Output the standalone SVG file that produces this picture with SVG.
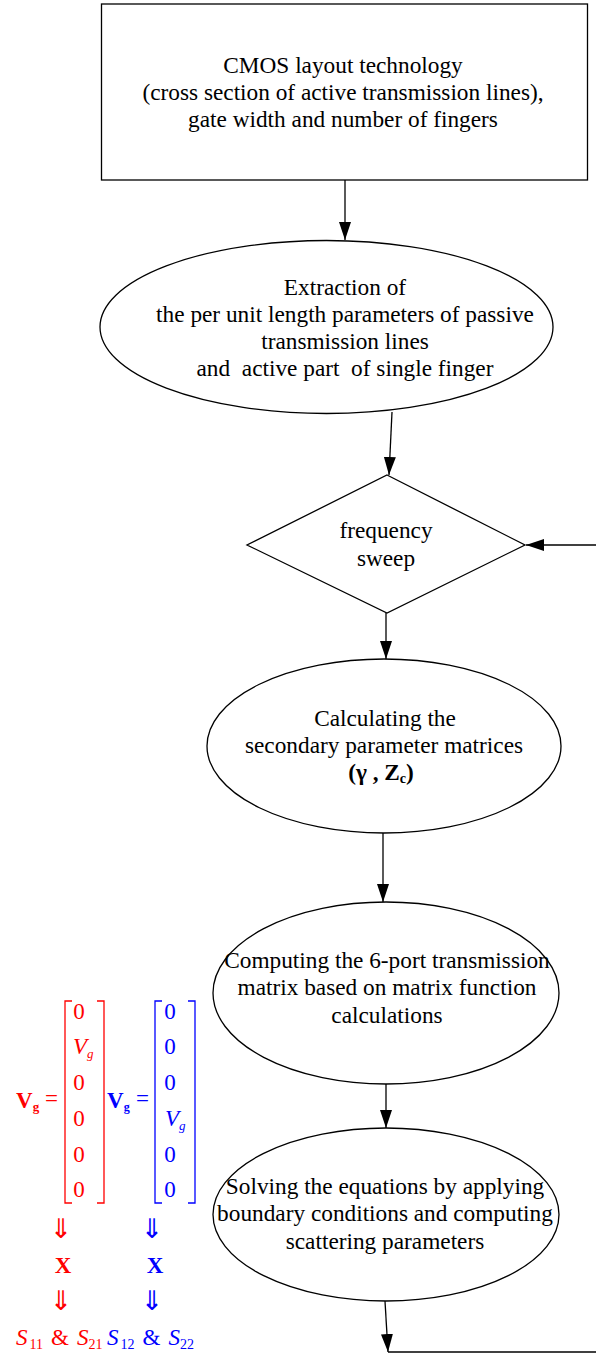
<svg xmlns="http://www.w3.org/2000/svg" width="596" height="1353" viewBox="0 0 596 1353">
<defs>
<style>
.shape{fill:#fff;stroke:#000;stroke-width:1.3}
.lbl{font-family:"Liberation Serif","DejaVu Serif",serif;fill:#000;text-anchor:middle;font-size:23.3px}
.conn{stroke:#000;stroke-width:1.3;fill:none}
.arr{marker-end:url(#ah)}
.m{font-family:"Liberation Serif","DejaVu Serif",serif;font-size:23px}
.red{fill:#ff0000}
.blue{fill:#0000ff}
.brk-r{stroke:#ff0000;stroke-width:1.3;fill:none}
.brk-b{stroke:#0000ff;stroke-width:1.3;fill:none}
.dar{font-family:"DejaVu Sans",sans-serif;font-size:27px;text-anchor:middle}
</style>
<marker id="ah" markerUnits="userSpaceOnUse" markerWidth="18" markerHeight="12" refX="18" refY="6" orient="auto">
<path d="M0,0 L18,6 L0,12 z" fill="#000"/>
</marker>
</defs>

<g id="connectors">
<line class="conn arr" x1="345" y1="180" x2="345" y2="240"/>
<line class="conn arr" x1="392" y1="412" x2="389" y2="475"/>
<line class="conn arr" x1="386" y1="613" x2="386" y2="659"/>
<line class="conn arr" x1="383" y1="833" x2="383" y2="902"/>
<line class="conn arr" x1="386" y1="1084" x2="386" y2="1128"/>
<line class="conn arr" x1="385" y1="1301" x2="388" y2="1352"/>
<line class="conn" x1="388" y1="1352" x2="596" y2="1352"/>
<line class="conn arr" x1="596" y1="545" x2="526" y2="545"/>
</g>

<g id="node-cmos">
<rect class="shape" x="101.5" y="4" width="486" height="176"/>
<text class="lbl" x="343" y="73">CMOS layout technology</text>
<text class="lbl" x="343" y="100" font-size="24">(cross section of active transmission lines),</text>
<text class="lbl" x="343" y="127">gate width and number of fingers</text>
</g>

<g id="node-extraction">
<ellipse class="shape" cx="326.5" cy="327" rx="226.5" ry="86.5"/>
<text class="lbl" x="345" y="295">Extraction of</text>
<text class="lbl" x="345" y="322">the per unit length parameters of passive</text>
<text class="lbl" x="345" y="349">transmission lines</text>
<text class="lbl" x="345" y="376" xml:space="preserve">and  active part  of single finger</text>
</g>

<g id="node-sweep">
<polygon class="shape" points="387,475 525,545 387,613 247,545"/>
<text class="lbl" x="386" y="538">frequency</text>
<text class="lbl" x="386" y="566">sweep</text>
</g>

<g id="node-secondary">
<ellipse class="shape" cx="384" cy="746" rx="177" ry="87"/>
<text class="lbl" x="385" y="726">Calculating the</text>
<text class="lbl" x="384" y="753">secondary parameter matrices</text>
<text class="lbl" x="381" y="780" font-weight="bold">(γ , Z<tspan font-size="14" dy="3">c</tspan><tspan dy="-3">)</tspan></text>
</g>

<g id="node-transmission">
<ellipse class="shape" cx="386" cy="993" rx="173" ry="91"/>
<text class="lbl" x="387" y="968">Computing the 6-port transmission</text>
<text class="lbl" x="387" y="995">matrix based on matrix function</text>
<text class="lbl" x="387" y="1023">calculations</text>
</g>

<g id="node-solving">
<ellipse class="shape" cx="386" cy="1214.5" rx="173" ry="86.5"/>
<text class="lbl" x="385" y="1194">Solving the equations by applying</text>
<text class="lbl" x="385" y="1221">boundary conditions and computing</text>
<text class="lbl" x="385" y="1249">scattering parameters</text>
</g>

<g id="matrix-red">
<text class="m red" x="16" y="1108" font-weight="bold" font-size="25">V<tspan font-size="13" dy="3">g</tspan></text>
<text class="m red" x="45" y="1106">=</text>
<path class="brk-r" d="M72,1001 H65 V1203 H72 M97,1001 H104 V1203 H97"/>
<text class="m red" x="79" y="1019" text-anchor="middle">0</text>
<text class="m red" x="73" y="1054" font-style="italic">V<tspan font-size="13" dy="4">g</tspan></text>
<text class="m red" x="79" y="1090" text-anchor="middle">0</text>
<text class="m red" x="79" y="1126" text-anchor="middle">0</text>
<text class="m red" x="79" y="1162" text-anchor="middle">0</text>
<text class="m red" x="79" y="1197" text-anchor="middle">0</text>
<text class="dar red" x="61" y="1238">⇓</text>
<text class="m red" x="63" y="1273" font-weight="bold" font-size="24" text-anchor="middle">X</text>
<text class="dar red" x="61" y="1310">⇓</text>
</g>

<g id="matrix-blue">
<text class="m blue" x="107" y="1108" font-weight="bold" font-size="21">V<tspan font-size="12" dy="3">g</tspan></text>
<text class="m blue" x="136" y="1106">=</text>
<path class="brk-b" d="M162,1001 H155 V1203 H162 M188,1001 H195 V1203 H188"/>
<text class="m blue" x="170" y="1019" text-anchor="middle">0</text>
<text class="m blue" x="170" y="1054" text-anchor="middle">0</text>
<text class="m blue" x="170" y="1090" text-anchor="middle">0</text>
<text class="m blue" x="165" y="1126" font-style="italic">V<tspan font-size="13" dy="4">g</tspan></text>
<text class="m blue" x="170" y="1162" text-anchor="middle">0</text>
<text class="m blue" x="170" y="1197" text-anchor="middle">0</text>
<text class="dar blue" x="152" y="1238">⇓</text>
<text class="m blue" x="155" y="1273" font-weight="bold" font-size="24" text-anchor="middle">X</text>
<text class="dar blue" x="152" y="1310">⇓</text>
</g>

<g id="s-params">
<text class="m red" x="16" y="1345"><tspan font-style="italic">S</tspan><tspan font-size="14" dx="2" dy="4">11</tspan><tspan dx="8" dy="-4">&amp;</tspan><tspan font-style="italic" dx="8">S</tspan><tspan font-size="14" dy="4">21</tspan></text>
<text class="m blue" x="107" y="1345"><tspan font-style="italic">S</tspan><tspan font-size="14" dx="2" dy="4">12</tspan><tspan dx="8" dy="-4">&amp;</tspan><tspan font-style="italic" dx="8">S</tspan><tspan font-size="14" dy="4">22</tspan></text>
</g>
</svg>
